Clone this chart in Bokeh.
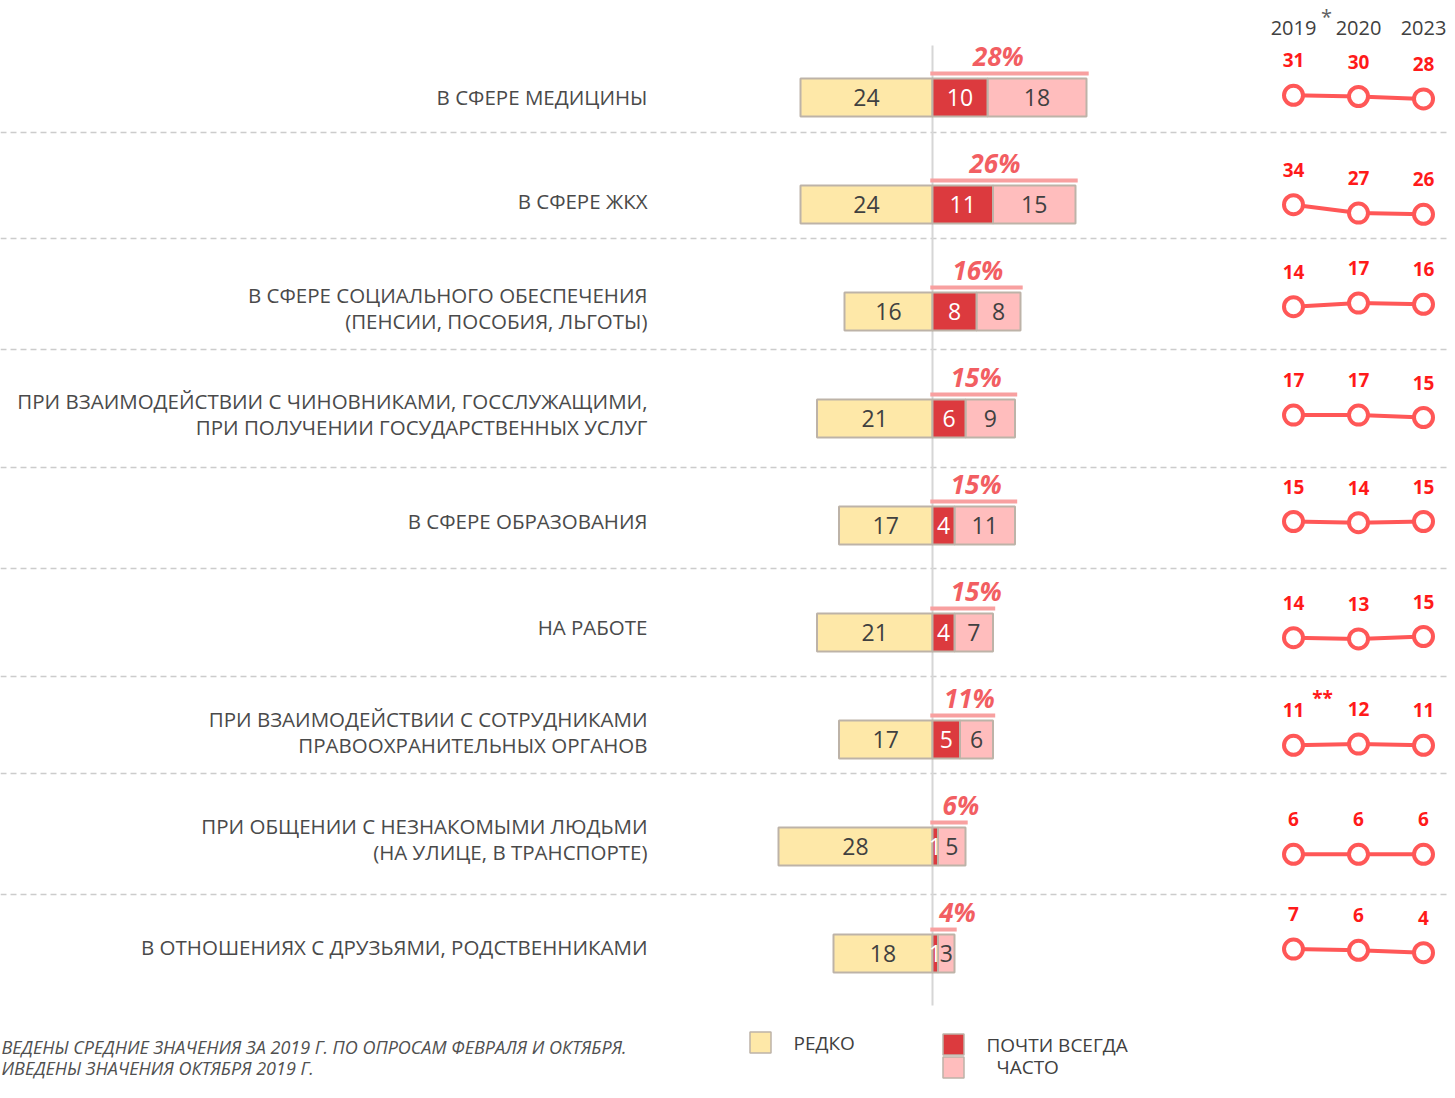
from bokeh.plotting import figure
from bokeh.models import Range1d, ColumnDataSource
from bokeh.core.properties import value
from bokeh.embed import file_html
from bokeh.resources import INLINE

# ---------------- data ----------------
categories = [
    "В сфере медицины",
    "В сфере ЖКХ",
    "В сфере социального обеспечения\n(пенсии, пособия, льготы)",
    "При взаимодействии с чиновниками, госслужащими,\nпри получении государственных услуг",
    "В сфере образования",
    "На работе",
    "При взаимодействии с сотрудниками\nправоохранительных органов",
    "При общении с незнакомыми людьми\n(на улице, в транспорте)",
    "В отношениях с друзьями, родственниками",
]
rarely = [24, 24, 16, 21, 17, 21, 17, 28, 18]          # Редко
almost_always = [10, 11, 8, 6, 4, 4, 5, 1, 1]         # Почти всегда
often = [18, 15, 8, 9, 11, 7, 6, 5, 3]                # Часто
totals = [28, 26, 16, 15, 15, 15, 11, 6, 4]           # Почти всегда + Часто, %
years = ["2019", "2020", "2023"]
trend_2019 = [31, 34, 14, 17, 15, 14, 11, 6, 7]
trend_2020 = [30, 27, 17, 17, 14, 13, 12, 6, 6]
trend_2023 = [28, 26, 16, 15, 15, 15, 11, 6, 4]
legend_labels = ["Редко", "Почти всегда", "Часто"]
footnotes = [
    "ведены средние значения за 2019 г. по опросам февраля и октября.",
    "иведены значения октября 2019 г.",
]

# ---------------- layout / style ----------------
W, H = 1447, 1082
PX_X0, PX_X1 = 0, W
PX_Y0, PX_Y1 = 0, H
ZERO_PX = 932.0
UNIT_PX = 5.5                  # px per percentage point in the bar chart
ROW0_PX, ROW_PX = 97.0, 107.0  # first row centre, row spacing
YR_X0, YR_STEP = 1293.0, 65.0  # mini-chart x position of first year, step
MINI_SCALE = 1.2               # px per point in the mini charts
mini_base = [132, 245, 323, 435, 539, 654, 758, 861, 957]
label_px = [96, 200, 307.5, 413.5, 520, 626, 731.5, 838.5, 946]

YELLOW = "#fee8a8"
DARK = "#dc3a3e"
PINK = "#ffbdbd"
BORDER = "#bdb3a8"
RED_TXT = "#ff1a1a"
LINE_RED = "#ff5757"
PCT_RED = "#f25e62"
GRAY_TXT = "#404040"
FONT = value("Open Sans")

n = len(categories)
rows = list(range(n))

p = figure(
    width=W, height=H, output_backend="svg", toolbar_location=None,
    x_range=Range1d((PX_X0 - ZERO_PX) / UNIT_PX, (PX_X1 - ZERO_PX) / UNIT_PX),
    y_range=Range1d((PX_Y1 - ROW0_PX) / ROW_PX, (PX_Y0 - ROW0_PX) / ROW_PX),
    min_border=0, outline_line_color=None,
)
p.axis.visible = False
p.grid.visible = False
p.background_fill_color = "white"
p.border_fill_color = "white"
p.extra_x_ranges = {
    "px": Range1d(PX_X0, PX_X1),
    "yr": Range1d((PX_X0 - YR_X0) / YR_STEP, (PX_X1 - YR_X0) / YR_STEP),
}
p.extra_y_ranges = {"px": Range1d(PX_Y1, PX_Y0)}
for i in rows:
    b = mini_base[i]
    p.extra_y_ranges[f"m{i}"] = Range1d((b - PX_Y1) / MINI_SCALE, (b - PX_Y0) / MINI_SCALE)

# ---------- separators ----------
sep_px = [132, 238, 349, 467, 568, 676, 773, 894]
for s in sep_px:
    p.line(x=[PX_X0, PX_X1], y=[s, s], x_range_name="px", y_range_name="px",
           line_color="#cccccc", line_width=1.3, line_dash="6 4")

# vertical zero line
p.line(x=[0, 0], y=[(45 - ROW0_PX) / ROW_PX, (1005 - ROW0_PX) / ROW_PX],
       line_color="#d6d6d6", line_width=2)

# ---------- bars ----------
src = ColumnDataSource(dict(
    y=rows,
    r_left=[-v for v in rarely],
    aa_right=list(almost_always),
    often_right=[a + o for a, o in zip(almost_always, often)],
    r_mid=[-v / 2 for v in rarely],
    aa_mid=[a / 2 for a in almost_always],
    o_mid=[a + o / 2 for a, o in zip(almost_always, often)],
    r_txt=[str(v) for v in rarely],
    aa_txt=[str(v) for v in almost_always],
    o_txt=[str(v) for v in often],
    tot_txt=[f"{t}%" for t in totals],
    tot_x=[3.3 + 0.31 * t for t in totals],
    tot_y=[r - 0.385 for r in rows],
    line_y=[r - 0.224 for r in rows],
    line_x0=[-0.4 for _ in rows],
    line_x1=[a + o + 0.4 for a, o in zip(almost_always, often)],
))
BH = 0.355
p.hbar(y="y", left="r_left", right=0, height=BH, source=src,
       fill_color=YELLOW, line_color=BORDER, line_width=2)
p.hbar(y="y", left="aa_right", right="often_right", height=BH, source=src,
       fill_color=PINK, line_color=BORDER, line_width=2)
p.hbar(y="y", left=0, right="aa_right", height=BH, source=src,
       fill_color=DARK, line_color=BORDER, line_width=2)

p.text(x="r_mid", y="y", text="r_txt", source=src, text_font=FONT, text_font_size="23px",
       text_color=GRAY_TXT, text_align="center", text_baseline="middle")
p.text(x="o_mid", y="y", text="o_txt", source=src, text_font=FONT, text_font_size="23px",
       text_color=GRAY_TXT, text_align="center", text_baseline="middle")
p.text(x="aa_mid", y="y", text="aa_txt", source=src, text_font=FONT, text_font_size="23px",
       text_color="white", text_align="center", text_baseline="middle")

# totals
p.segment(x0="line_x0", y0="line_y", x1="line_x1", y1="line_y", source=src,
          line_color="#f8a0a0", line_width=4)
p.text(x="tot_x", y="tot_y", text="tot_txt", source=src, text_font=FONT,
       text_font_size="26px", text_font_style="bold italic", text_color=PCT_RED,
       text_align="center", text_baseline="middle")

# ---------- category labels ----------
p.text(x=[647] * n, y=label_px,
       text=[c.upper() for c in categories], x_range_name="px", y_range_name="px",
       text_font=FONT, text_font_size="20.5px", text_color="#4a4a4a",
       text_align="right", text_baseline="middle", text_line_height=0.92)

# ---------- mini trend charts ----------
for i in rows:
    vals = [trend_2019[i], trend_2020[i], trend_2023[i]]
    xs = [0, 1, 2]
    p.line(x=xs, y=vals, x_range_name="yr", y_range_name=f"m{i}",
           line_color=LINE_RED, line_width=4)
    p.scatter(x=xs, y=vals, x_range_name="yr", y_range_name=f"m{i}", size=19,
              fill_color="white", line_color=LINE_RED, line_width=4)
    p.text(x=xs, y=[v + 35 / MINI_SCALE for v in vals], text=[str(v) for v in vals],
           x_range_name="yr", y_range_name=f"m{i}", text_font=FONT,
           text_font_size="19px", text_font_style="bold", text_color=RED_TXT,
           text_align="center", text_baseline="middle")

# year header
p.text(x=[0, 1, 2], y=[27] * 3, text=years, x_range_name="yr", y_range_name="px",
       text_font=FONT, text_font_size="20px", text_color=GRAY_TXT,
       text_align="center", text_baseline="middle")
p.text(x=[1326], y=[16], text=["*"], x_range_name="px", y_range_name="px",
       text_font=FONT, text_font_size="20px", text_color="#606060",
       text_align="center", text_baseline="middle")
p.text(x=[1322], y=[697], text=["**"], x_range_name="px", y_range_name="px",
       text_font=FONT, text_font_size="19px", text_font_style="bold", text_color=RED_TXT,
       text_align="center", text_baseline="middle")

# ---------- legend ----------
p.rect(x=[760, 953, 953], y=[1042, 1044, 1067], width=21, height=21,
       width_units="screen", height_units="screen", x_range_name="px", y_range_name="px",
       fill_color=[YELLOW, DARK, PINK], line_color=BORDER, line_width=1.5)
p.text(x=[793, 986, 996], y=[1042, 1044, 1066], text=[t.upper() for t in legend_labels],
       x_range_name="px", y_range_name="px", text_font=FONT, text_font_size="19px",
       text_color=GRAY_TXT, text_align="left", text_baseline="middle")

# ---------- footnotes ----------
p.text(x=[1, 1], y=[1046, 1067], text=[f.upper() for f in footnotes],
       x_range_name="px", y_range_name="px", text_font=FONT, text_font_size="18px",
       text_font_style="italic", text_color="#505050",
       text_align="left", text_baseline="middle")

open("out.html", "w").write(file_html(p, INLINE))
